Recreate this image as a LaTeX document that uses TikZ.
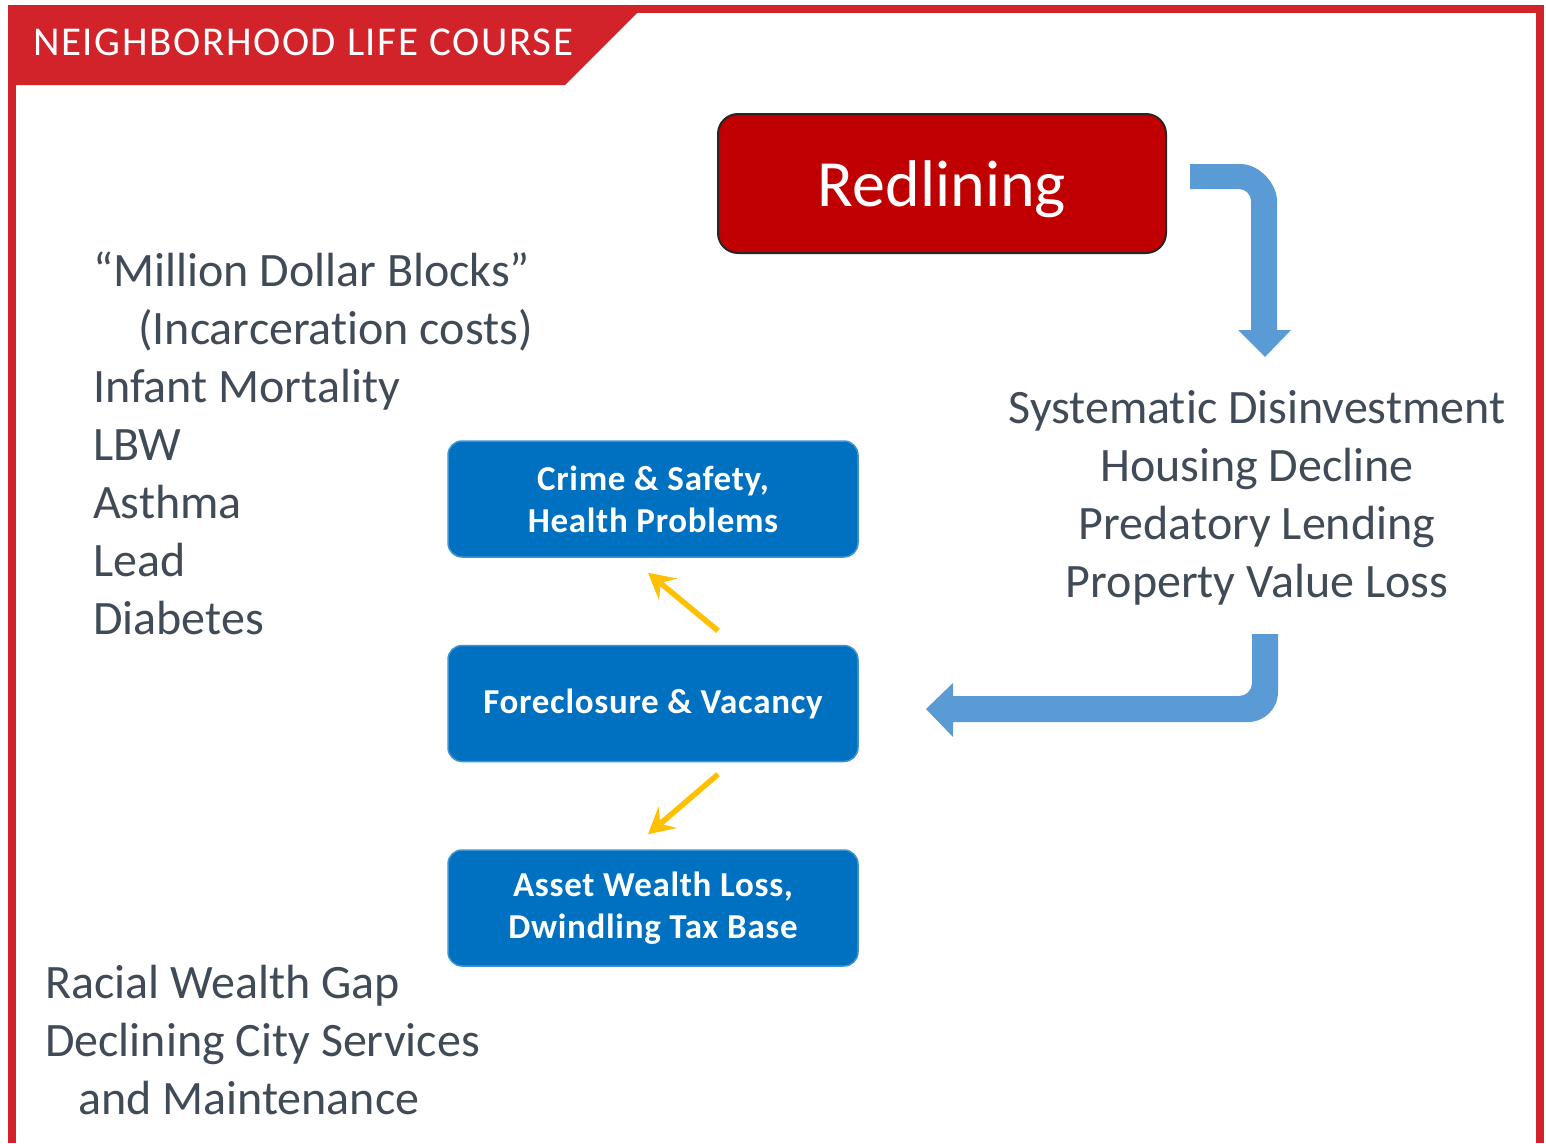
\documentclass[tikz,border=0pt]{standalone}
\usepackage{fontspec}
\setmainfont{Carlito}[Ligatures={TeX,NoCommon}]
\usetikzlibrary{arrows.meta,positioning}
\definecolor{hdrred}{HTML}{D2232A}
\definecolor{redbox}{HTML}{C00000}
\definecolor{bluebox}{HTML}{0070C0}
\definecolor{bluearr}{HTML}{5B9BD5}
\definecolor{yarr}{HTML}{FFC000}
\definecolor{txtgray}{HTML}{414B57}
\tikzset{
  % Blue stage of the cycle, white bold text.
  stage/.style = {rectangle, rounded corners=14pt, draw=bluebox!75!white, fill=bluebox,
                  line width=1.5pt, minimum width=410pt, minimum height=116pt,
                  align=center, text=white,
                  font=\fontsize{35}{42}\selectfont\bfseries\addfontfeature{LetterSpace=2}},
  cause/.style = {rectangle, rounded corners=20pt, draw=black!85, fill=redbox,
                  line width=2pt, minimum width=448pt, minimum height=139pt,
                  text=white, text depth=0pt, font=\fontsize{66}{66}\selectfont},
  item/.style  = {font=\fontsize{48}{58}\selectfont, text=txtgray, inner sep=0pt},
  link/.style  = {-{Stealth[length=26pt,width=28pt,inset=10pt]}, yarr, line width=5.5pt},
  blockarrow/.style = {fill=bluearr},
  frame/.style = {fill=hdrred},
}
\begin{document}
\begin{tikzpicture}[x=1pt,y=-1pt]
\useasboundingbox (0,0) rectangle (1546,1143);
\fill[white] (0,0) rectangle (1546,1143);
% red frame and title band
\fill[frame] (8,5) rectangle (1544,13);
\fill[frame] (8,5) rectangle (16,1143);
\fill[frame] (1536,5) rectangle (1544,1143);
\fill[frame] (8,13) -- (637,13) -- (565,85) -- (8,85) -- cycle;
\node[anchor=base west, inner sep=0pt, text=white,
      font=\fontsize{41}{41}\selectfont\addfontfeature{LetterSpace=4}] (title) at (33,55) {NEIGHBORHOOD LIFE COURSE};
% cause
\node[cause] (red) at (942,183.5) {Redlining};
% cycle of stages
\node[stage] (crime) at (653,499) {Crime \& Safety,\\Health Problems};
\node[stage, below=87pt of crime] (fore) {Foreclosure \& Vacancy};
\node[stage, below=87pt of fore] (asset) {Asset Wealth Loss,\\Dwindling Tax Base};
\draw[link] ([xshift=65pt,yshift=14pt]fore.north) -- ([xshift=-5pt,yshift=-15pt]crime.south);
\draw[link] ([xshift=65pt,yshift=-12pt]fore.south) -- ([xshift=-5pt,yshift=15pt]asset.north);
% bent block arrows
\fill[blockarrow] (1190,164) -- (1240,164) .. controls (1260.4,164) and (1277,184.6) .. (1277,201)
  -- (1277,330) -- (1291,330) -- (1265,357) -- (1238,330) -- (1251,330) -- (1251,201)
  .. controls (1251,194.4) and (1245.6,189) .. (1239,189) -- (1190,189) -- cycle;
\fill[blockarrow] (1252,634) -- (1278,634) -- (1278,692) .. controls (1278,708.6) and (1264.6,722) .. (1248,722)
  -- (953,722) -- (953,737) -- (926,709) -- (953,683) -- (953,696) -- (1239,696)
  .. controls (1246.2,696) and (1252,690.2) .. (1252,683) -- cycle;
% effects
\foreach \t [count=\i] in {Systematic Disinvestment, Housing Decline, Predatory Lending, Property Value Loss}
  \node[item, anchor=base] (eff-\i) at (1257,{423+58.3*(\i-1)}) {\t};
\foreach \t [count=\i] in {“Million Dollar Blocks”, \hspace*{45pt}(Incarceration costs), Infant Mortality, LBW, Asthma, Lead, Diabetes}
  \node[item, anchor=base west] (hlt-\i) at (93,{286+58*(\i-1)}) {\t};
\foreach \t [count=\i] in {Racial Wealth Gap, Declining City Services, \hspace*{33pt}and Maintenance}
  \node[item, anchor=base west] (gap-\i) at (45,{998+58*(\i-1)}) {\t};
\end{tikzpicture}
\end{document}
